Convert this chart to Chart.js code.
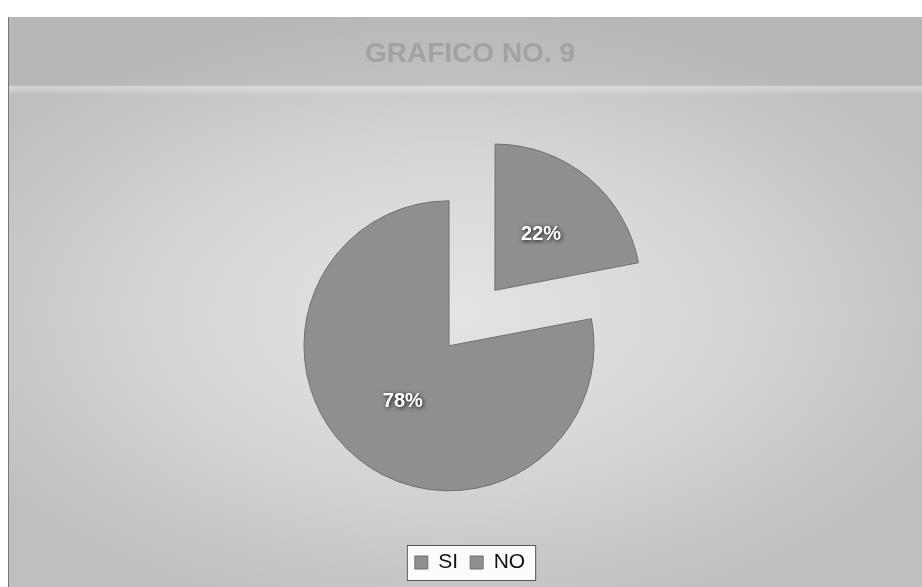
<!DOCTYPE html>
<html>
<head>
<meta charset="utf-8">
<script src="https://cdn.jsdelivr.net/npm/chart.js@4.4.0/dist/chart.umd.min.js"></script>
<style>
  html, body { margin: 0; padding: 0; background: #fff; }
  body { width: 922px; height: 587px; position: relative; overflow: hidden; }
  #frame {
    position: absolute; left: 8px; top: 17px; width: 914px; height: 570px;
    border-left: 1px solid #777;
    overflow: hidden;
    background:
      linear-gradient(to bottom, rgba(150,150,150,0.2) 0px, rgba(150,150,150,0.2) 68px, rgba(255,255,255,0.35) 70px, rgba(255,255,255,0) 78px),
      radial-gradient(ellipse 60% 55% at 48% 52%, #e4e4e4 0%, #d8d8d8 45%, #c8c8c8 80%, #bfbfbf 100%);
  }
  #frame canvas { position: absolute; left: 4px; top: 0; }
</style>
</head>
<body>
<div id="frame"><canvas id="chart" width="914" height="570"></canvas></div>
<script>
const categories = ['SI', 'NO'];
const percentages = [22, 78];
const chartTitle = 'GRAFICO NO. 9';

// white % labels with a dark halo, at half radius along each slice's bisector (incl. explode shift)
const sliceLabels = {
  id: 'sliceLabels',
  afterDatasetsDraw(chart) {
    const { ctx } = chart;
    const meta = chart.getDatasetMeta(0);
    ctx.save();
    ctx.font = 'bold 20px "Liberation Sans", Arial, sans-serif';
    ctx.textAlign = 'center';
    ctx.textBaseline = 'middle';
    meta.data.forEach((arc, i) => {
      const mid = (arc.startAngle + arc.endAngle) / 2;
      const dist = arc.outerRadius / 2 + (arc.options.offset || 0) / 4;
      const x = arc.x + Math.cos(mid) * dist;
      const y = arc.y + Math.sin(mid) * dist;
      ctx.shadowColor = 'rgba(0,0,0,0.9)';
      ctx.shadowBlur = 4;
      ctx.shadowOffsetX = 1;
      ctx.shadowOffsetY = 1;
      ctx.fillStyle = '#ffffff';
      ctx.fillText(percentages[i] + '%', x, y);
    });
    ctx.restore();
  }
};

// white box behind the legend entries
const legendBox = {
  id: 'legendBox',
  beforeDraw(chart) {
    const boxes = chart.legend && chart.legend.legendHitBoxes;
    if (!boxes || !boxes.length) return;
    const first = boxes[0];
    const last = boxes[boxes.length - 1];
    const { ctx } = chart;
    const left = first.left - 8;
    const right = last.left + last.width + 10;
    const top = first.top - 7;
    const bottom = first.top + first.height + 7;
    ctx.save();
    ctx.fillStyle = '#fbfbfb';
    ctx.strokeStyle = '#555';
    ctx.lineWidth = 1;
    ctx.fillRect(left, top, right - left, bottom - top);
    ctx.strokeRect(left + 0.5, top + 0.5, right - left, bottom - top);
    ctx.restore();
  }
};

new Chart(document.getElementById('chart'), {
  type: 'pie',
  data: {
    labels: categories,
    datasets: [{
      data: percentages,
      backgroundColor: ['#8f8f8f', '#8f8f8f'],
      borderColor: '#6f6f6f',
      borderWidth: 1,
      offset: [288, 0],
      hoverOffset: 0
    }]
  },
  options: {
    responsive: false,
    animation: false,
    radius: 145,
    layout: { padding: { bottom: 4 } },
    plugins: {
      title: {
        display: true,
        text: chartTitle,
        color: '#a2a2a2',
        font: { family: '"Liberation Sans", Arial, sans-serif', size: 28, weight: 'bold' },
        padding: { top: 20, bottom: 81 }
      },
      // empty side box: pushes the pie left of the centred title and legend
      subtitle: {
        display: true,
        position: 'right',
        fullSize: false,
        text: ' ',
        color: 'rgba(0,0,0,0)',
        font: { size: 10 },
        padding: { top: 15, bottom: 15 }
      },
      legend: {
        position: 'bottom',
        labels: {
          color: '#111',
          boxWidth: 13,
          boxHeight: 13,
          padding: 12,
          font: { family: '"Liberation Sans", Arial, sans-serif', size: 21 }
        }
      },
      tooltip: { enabled: false }
    }
  },
  plugins: [legendBox, sliceLabels]
});
</script>
</body>
</html>
